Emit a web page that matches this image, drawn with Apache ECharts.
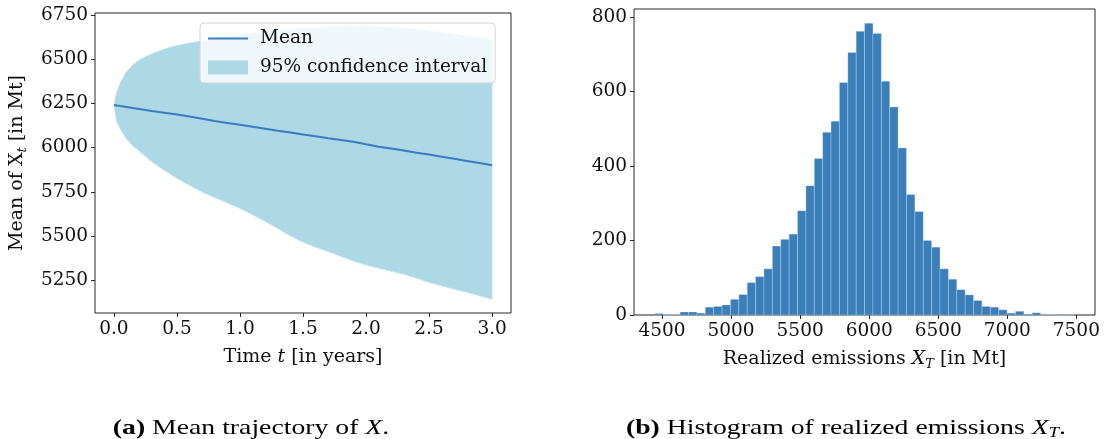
<!DOCTYPE html>
<html>
<head>
<meta charset="utf-8">
<script src="https://cdn.jsdelivr.net/npm/echarts@6/dist/echarts.min.js"></script>
<style>
  html, body { margin: 0; padding: 0; background: #ffffff; }
  #chart { width: 1111px; height: 439px; }
</style>
</head>
<body>
<div id="chart"></div>
<script>
// ---- (a) mean trajectory of X with its 95% band ----
const timeGrid = [0, 0.02, 0.05, 0.1, 0.15, 0.2, 0.3, 0.4, 0.5, 0.6, 0.7, 0.8, 0.9, 1.0,
  1.1, 1.2, 1.3, 1.4, 1.5, 1.6, 1.7, 1.8, 1.9, 2.0, 2.1, 2.2, 2.3, 2.4, 2.5, 2.6, 2.7, 2.8, 2.9, 3.0];
const meanX = [6240, 6238, 6234, 6229, 6223, 6218, 6206, 6196, 6186, 6175, 6163, 6150, 6139, 6128,
  6117, 6106, 6095, 6085, 6074, 6063, 6052, 6042, 6033, 6018, 6004, 5994, 5983, 5971, 5960, 5948, 5936, 5924, 5912, 5900];
const upperX = [6240, 6308, 6365, 6429, 6467, 6495, 6530, 6557, 6576, 6590, 6603, 6616, 6628, 6638,
  6646, 6654, 6660, 6666, 6671, 6676, 6680, 6683, 6685, 6684, 6682, 6679, 6674, 6668, 6660, 6651, 6641, 6630, 6619, 6608];
const lowerX = [6240, 6150, 6105, 6048, 6009, 5980, 5920, 5870, 5826, 5786, 5748, 5718, 5687, 5656,
  5620, 5582, 5542, 5500, 5465, 5436, 5412, 5385, 5358, 5336, 5318, 5301, 5284, 5261, 5238, 5218, 5199, 5182, 5162, 5143];
const timeTicks = [0, 0.5, 1.0, 1.5, 2.0, 2.5, 3.0];
const meanTicks = [5250, 5500, 5750, 6000, 6250, 6500, 6750];

// ---- (b) histogram of realized emissions X_T (50 bins) ----
const binStart = 4449;
const binWidth = 60.7;
const binCounts = [4, 1, 1, 8, 8, 5, 21, 23, 27, 42, 55, 87, 103, 124, 185, 203, 217, 280, 347, 420,
  490, 520, 624, 704, 761, 783, 755, 627, 558, 448, 323, 278, 200, 182, 124, 96, 68, 54, 39, 23,
  21, 14, 5, 10, 2, 6, 1, 1, 0, 1];
const emissionTicks = [4500, 5000, 5500, 6000, 6500, 7000, 7500];
const countTicks = [0, 200, 400, 600, 800];

const SERIF = "'DejaVu Serif', serif";
const CAPTION_FONT = "'Liberation Serif', serif";
const INK = '#111111';
const FRAME = '#262626';
const LINE_BLUE = '#3b7cc0';
const BAND_BLUE = '#add8e6';

const bandData = timeGrid.map((t, i) => [t, lowerX[i], upperX[i]]);
const meanData = timeGrid.map((t, i) => [t, meanX[i]]);
const histData = binCounts.map((c, i) => [binStart + i * binWidth, binStart + (i + 1) * binWidth, c]);

const tickStyle = { show: true, inside: false, length: 4, lineStyle: { color: FRAME, width: 1 } };
const labelBase = { color: INK, fontFamily: SERIF, fontSize: 18.5, margin: 7 };
const plain = v => String(v);
const nameBase = {
  color: INK, fontFamily: SERIF, fontSize: 19, lineHeight: 24,
  rich: {
    i: { fontStyle: 'italic', fontFamily: SERIF, fontSize: 19, color: INK, lineHeight: 24 },
    s: { fontStyle: 'italic', fontFamily: SERIF, fontSize: 13, color: INK, verticalAlign: 'bottom', lineHeight: 15 }
  }
};
const noLine = { show: false, onZero: false };

const chart = echarts.init(document.getElementById('chart'), null, { renderer: 'canvas' });

chart.setOption({
  animation: false,
  backgroundColor: '#ffffff',
  grid: [
    { left: 95, top: 13, width: 416, height: 300, show: true, borderColor: FRAME, borderWidth: 1, backgroundColor: 'transparent' },
    { left: 634, top: 9, width: 461, height: 306, show: true, borderColor: FRAME, borderWidth: 1, backgroundColor: 'transparent' }
  ],
  xAxis: [
    {
      gridIndex: 0, type: 'value', min: -0.15, max: 3.15,
      axisLine: noLine, splitLine: { show: false },
      axisTick: Object.assign({ customValues: timeTicks }, tickStyle),
      axisLabel: Object.assign({ customValues: timeTicks, formatter: v => v.toFixed(1) }, labelBase),
      name: 'Time {i|t} [in years]', nameLocation: 'middle', nameGap: 32,
      nameTextStyle: nameBase
    },
    {
      gridIndex: 1, type: 'value', min: 4297, max: 7635,
      axisLine: noLine, splitLine: { show: false },
      axisTick: Object.assign({ customValues: emissionTicks }, tickStyle),
      axisLabel: Object.assign({ customValues: emissionTicks, formatter: plain }, labelBase),
      name: 'Realized emissions {i|X}{s|T} [in Mt]', nameLocation: 'middle', nameGap: 32,
      nameTextStyle: nameBase
    }
  ],
  yAxis: [
    {
      gridIndex: 0, type: 'value', min: 5065, max: 6760,
      axisLine: noLine, splitLine: { show: false },
      axisTick: Object.assign({ customValues: meanTicks }, tickStyle),
      axisLabel: Object.assign({ customValues: meanTicks, formatter: plain }, labelBase),
      name: 'Mean of X{s|t} [in Mt]', nameLocation: 'middle', nameGap: 66,
      nameTextStyle: nameBase
    },
    {
      gridIndex: 1, type: 'value', min: 0, max: 821,
      axisLine: noLine, splitLine: { show: false },
      axisTick: Object.assign({ customValues: countTicks }, tickStyle),
      axisLabel: Object.assign({ customValues: countTicks, formatter: plain }, labelBase)
    }
  ],
  legend: {
    orient: 'vertical', left: 200, top: 23,
    padding: [6, 8, 6, 7], itemGap: 10, itemWidth: 40, itemHeight: 14,
    backgroundColor: 'rgba(255,255,255,0.8)', borderColor: '#d4d4d4', borderWidth: 1, borderRadius: 4,
    textStyle: { color: INK, fontFamily: SERIF, fontSize: 18.5, padding: [0, 0, 0, 7] },
    data: [
      {
        name: 'Mean',
        itemStyle: { color: 'rgba(0,0,0,0)', borderColor: 'rgba(0,0,0,0)', borderWidth: 0 },
        lineStyle: { color: LINE_BLUE, width: 2 }
      },
      { name: '95% confidence interval', icon: 'rect', itemStyle: { color: BAND_BLUE } }
    ],
    selectedMode: false
  },
  series: [
    {
      name: '95% confidence interval',
      type: 'custom', xAxisIndex: 0, yAxisIndex: 0,
      data: bandData,
      encode: { x: 0, y: [1, 2] },
      itemStyle: { color: BAND_BLUE },
      z: 1,
      renderItem: function (params, api) {
        if (params.dataIndex !== 0) return null;
        const top = bandData.map(d => api.coord([d[0], d[2]]));
        const bottom = bandData.slice().reverse().map(d => api.coord([d[0], d[1]]));
        return {
          type: 'polygon',
          shape: { points: top.concat(bottom) },
          style: { fill: BAND_BLUE, stroke: '#c4e4ef', lineWidth: 0.8 }
        };
      }
    },
    {
      name: 'Mean',
      type: 'line', xAxisIndex: 0, yAxisIndex: 0,
      data: meanData, symbol: 'none', smooth: false,
      lineStyle: { color: LINE_BLUE, width: 2 },
      itemStyle: { color: LINE_BLUE },
      z: 3
    },
    {
      name: 'Realized emissions',
      type: 'custom', xAxisIndex: 1, yAxisIndex: 1,
      data: histData,
      encode: { x: [0, 1], y: 2 },
      renderItem: function (params, api) {
        const p0 = api.coord([api.value(0), api.value(2)]);
        const p1 = api.coord([api.value(1), 0]);
        return {
          type: 'rect',
          shape: { x: p0[0], y: p0[1], width: p1[0] - p0[0], height: p1[1] - p0[1] },
          style: { fill: '#3a7eba', stroke: 'rgba(255,255,255,0.3)', lineWidth: 0.8 }
        };
      }
    }
  ],
  graphic: [
    {
      type: 'text', x: 251, y: 428, scaleX: 1.26,
      style: {
        text: '{b|(a)} Mean trajectory of {i|X}.',
        align: 'center', verticalAlign: 'middle',
        fontFamily: CAPTION_FONT, fontSize: 22, fill: '#000',
        rich: {
          b: { fontWeight: 'bold', fontFamily: CAPTION_FONT, fontSize: 22 },
          i: { fontStyle: 'italic', fontFamily: CAPTION_FONT, fontSize: 22 }
        }
      }
    },
    {
      type: 'text', x: 846, y: 428, scaleX: 1.26,
      style: {
        text: '{b|(b)} Histogram of realized emissions {i|X}{s|T}.',
        align: 'center', verticalAlign: 'middle',
        fontFamily: CAPTION_FONT, fontSize: 22, fill: '#000', lineHeight: 25,
        rich: {
          b: { fontWeight: 'bold', fontFamily: CAPTION_FONT, fontSize: 22, lineHeight: 25 },
          i: { fontStyle: 'italic', fontFamily: CAPTION_FONT, fontSize: 22, lineHeight: 25 },
          s: { fontStyle: 'italic', fontFamily: CAPTION_FONT, fontSize: 15, verticalAlign: 'bottom', lineHeight: 15 }
        }
      }
    }
  ]
});
</script>
</body>
</html>
